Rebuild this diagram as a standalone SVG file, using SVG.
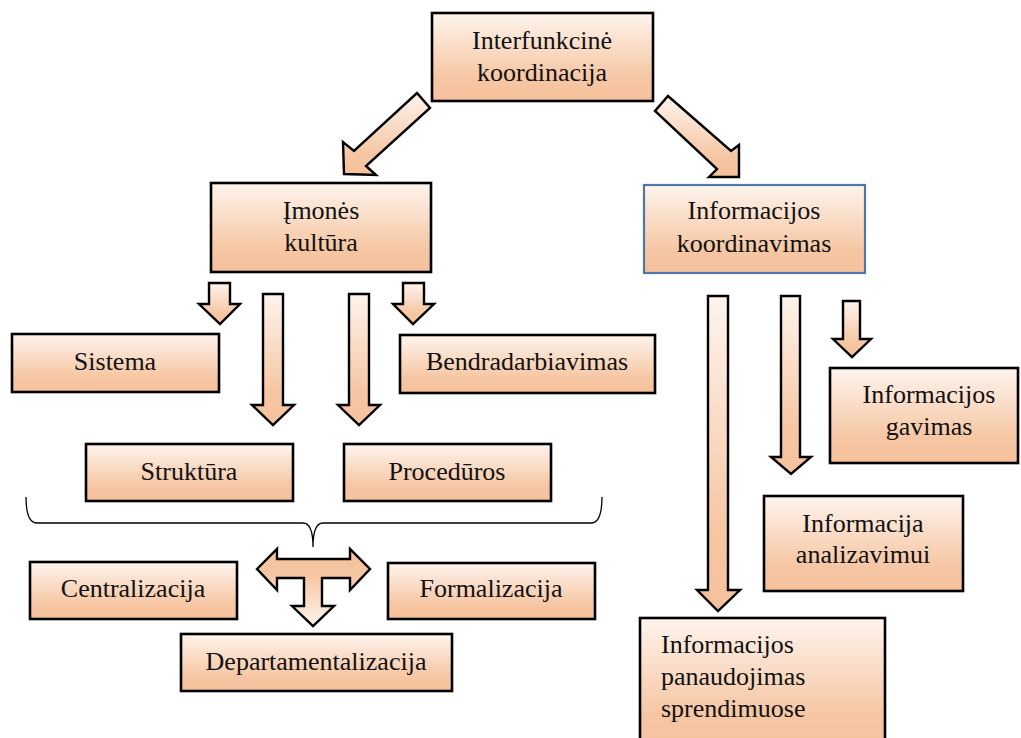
<svg xmlns="http://www.w3.org/2000/svg" width="1021" height="738" viewBox="0 0 1021 738">
  <defs>
    <linearGradient id="peach" x1="0" y1="0" x2="0" y2="1">
      <stop offset="0" stop-color="#fef4ee"/>
      <stop offset="0.75" stop-color="#f6c6a2"/>
      <stop offset="1" stop-color="#f5c19c"/>
    </linearGradient>
    <linearGradient id="peachUp" x1="0" y1="0" x2="0" y2="1">
      <stop offset="0" stop-color="#f5c19c"/>
      <stop offset="0.35" stop-color="#f6c6a2"/>
      <stop offset="1" stop-color="#fef4ee"/>
    </linearGradient>
    <style>
      .box { fill: url(#peach); stroke: #000; stroke-width: 2.6; }
      .box-blue { fill: url(#peach); stroke: #4f78a8; stroke-width: 2.2; }
      .arrow { fill: url(#peach); stroke: #000; stroke-width: 2.4; stroke-linejoin: miter; }
      .arrow-t { fill: url(#peachUp); stroke: #000; stroke-width: 2.4; stroke-linejoin: miter; }
      .brace { fill: none; stroke: #000; stroke-width: 1.3; }
      .c { text-anchor: middle; }
    </style>
  </defs>

  <rect width="1021" height="738" fill="#fff"/>

  <!-- connectors: block arrows and the grouping brace -->
  <g id="connectors">
    <polygon class="arrow" points="344,174 343,142 354,151 417,93 430,108 366,166 376,175"/>
    <polygon class="arrow" points="668,96 731,151 739,145 739,177 709,177 717,169 655,111"/>

    <polygon class="arrow" points="209,283 230,283 230,304 240,304 220,324 199,304 209,304"/>
    <polygon class="arrow" points="263,294 283,294 283,405 294,405 273,425 252,405 263,405"/>
    <polygon class="arrow" points="349,294 369,294 369,405 380,405 359,425 338,405 349,405"/>
    <polygon class="arrow" points="403,283 424,283 424,304 434,304 413,324 393,304 403,304"/>

    <polygon class="arrow" points="708,296 728,296 728,590 740,590 718,611 697,590 708,590"/>
    <polygon class="arrow" points="781,296 800,296 800,457 811,457 791,474 771,457 781,457"/>
    <polygon class="arrow" points="843,301 860,301 860,339 871,339 852,357 833,339 843,339"/>

    <path class="brace" d="M26,497 Q26,523 37,523 L303,523 Q313,523 313,547 Q313,523 323,523 L591,523 Q602,523 602,497"/>

    <polygon class="arrow-t" points="257,569 277,549 277,559 350,559 350,549 370,569 350,590 350,578 322,578 322,606 334,606 313,626 292,606 304,606 304,578 277,578 277,590"/>
  </g>

  <g font-family="'Liberation Serif', 'Times New Roman', Times, 'DejaVu Serif', serif" font-size="26" fill="#111">
  <g id="node-interfunkcine">
    <rect class="box" x="432" y="13" width="221" height="88"/>
    <text class="c" x="542" y="49">Interfunkcinė</text>
    <text class="c" x="542" y="81">koordinacija</text>
  </g>

  <g id="node-imones-kultura">
    <rect class="box" x="211" y="183" width="220" height="89"/>
    <text class="c" x="321" y="219">Įmonės</text>
    <text class="c" x="321" y="251">kultūra</text>
  </g>

  <g id="node-informacijos-koordinavimas">
    <rect class="box-blue" x="644" y="185" width="221" height="88"/>
    <text class="c" x="754" y="219">Informacijos</text>
    <text class="c" x="754" y="252">koordinavimas</text>
  </g>

  <g id="node-sistema">
    <rect class="box" x="12" y="334" width="207" height="58"/>
    <text class="c" x="115" y="370">Sistema</text>
  </g>

  <g id="node-bendradarbiavimas">
    <rect class="box" x="400" y="335" width="255" height="58"/>
    <text class="c" x="527" y="370">Bendradarbiavimas</text>
  </g>

  <g id="node-struktura">
    <rect class="box" x="86" y="444" width="207" height="57"/>
    <text class="c" x="189" y="480">Struktūra</text>
  </g>

  <g id="node-proceduros">
    <rect class="box" x="344" y="444" width="207" height="57"/>
    <text class="c" x="447" y="480">Procedūros</text>
  </g>

  <g id="node-centralizacija">
    <rect class="box" x="30" y="562" width="207" height="57"/>
    <text class="c" x="133" y="597">Centralizacija</text>
  </g>

  <g id="node-formalizacija">
    <rect class="box" x="388" y="563" width="207" height="56"/>
    <text class="c" x="491" y="597">Formalizacija</text>
  </g>

  <g id="node-departamentalizacija">
    <rect class="box" x="181" y="634" width="271" height="57"/>
    <text class="c" x="316" y="670">Departamentalizacija</text>
  </g>

  <g id="node-informacijos-gavimas">
    <rect class="box" x="830" y="368" width="188" height="95"/>
    <text class="c" x="929" y="403">Informacijos</text>
    <text class="c" x="929" y="435">gavimas</text>
  </g>

  <g id="node-informacija-analizavimui">
    <rect class="box" x="764" y="496" width="199" height="95"/>
    <text class="c" x="863" y="532">Informacija</text>
    <text class="c" x="863" y="563">analizavimui</text>
  </g>

  <g id="node-informacijos-panaudojimas">
    <rect class="box" x="640" y="618" width="245" height="130"/>
    <text x="661" y="653">Informacijos</text>
    <text x="661" y="685">panaudojimas</text>
    <text x="661" y="717">sprendimuose</text>
  </g>
  </g>
</svg>
